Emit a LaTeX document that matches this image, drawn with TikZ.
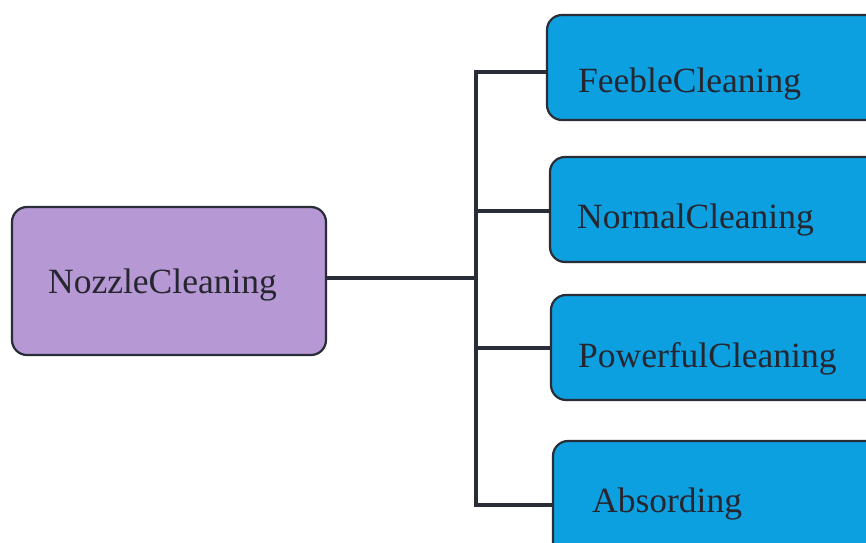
\documentclass[tikz,border=0pt]{standalone}
\usepackage{fontspec}
\setmainfont{Liberation Serif}
\begin{document}
\definecolor{lavender}{RGB}{182,152,212}
\definecolor{skyblue}{RGB}{12,160,224}
\definecolor{edge}{RGB}{40,45,55}
\definecolor{ink}{RGB}{38,38,48}
\begin{tikzpicture}[x=1pt,y=-1pt,
  box/.style={draw=edge,line width=2.2pt,rounded corners=15pt,inner sep=0pt},
  root/.style={box,fill=lavender},
  leaf/.style={box,fill=skyblue},
  label/.style={anchor=base west,inner sep=0pt,text=ink,font=\fontsize{35.5}{40}\selectfont},
  wire/.style={draw=edge,line width=3.6pt}]
\useasboundingbox (0,0) rectangle (866,542);
\clip (0,0) rectangle (866,542);
\fill[white] (0,0) rectangle (866,542);

% parent box
\node[root,minimum width=314pt,minimum height=148pt] (nozzle) at (169,281) {};
\node[label] (tnozzle) at (48,293) {NozzleCleaning};

% child boxes (they run past the right edge)
\node[leaf,minimum width=333pt,minimum height=105pt] (feeble) at (713.5,67.5) {};
\node[label] (tfeeble) at (578,92) {FeebleCleaning};
\node[leaf,minimum width=330pt,minimum height=105pt] (normal) at (715,209.5) {};
\node[label] (tnormal) at (577,228) {NormalCleaning};
\node[leaf,minimum width=329pt,minimum height=105pt] (powerful) at (715.5,347.5) {};
\node[label] (tpowerful) at (578,367) {PowerfulCleaning};
\node[leaf,minimum width=327pt,minimum height=128pt] (absorbing) at (716.5,505) {};
\node[label] (tabsorbing) at (592,512) {Absording};

% connectors
\coordinate (j) at (476,278);
\draw[wire] ([yshift=3pt]nozzle.east) -- (j);
\draw[wire,line cap=square] (j) |- ([yshift=-4.5pt]feeble.west);
\draw[wire] (j) |- ([yshift=-1.5pt]normal.west);
\draw[wire] (j) |- ([yshift=-0.5pt]powerful.west);
\draw[wire,line cap=square] (j) |- (absorbing.west);
\end{tikzpicture}
\end{document}
